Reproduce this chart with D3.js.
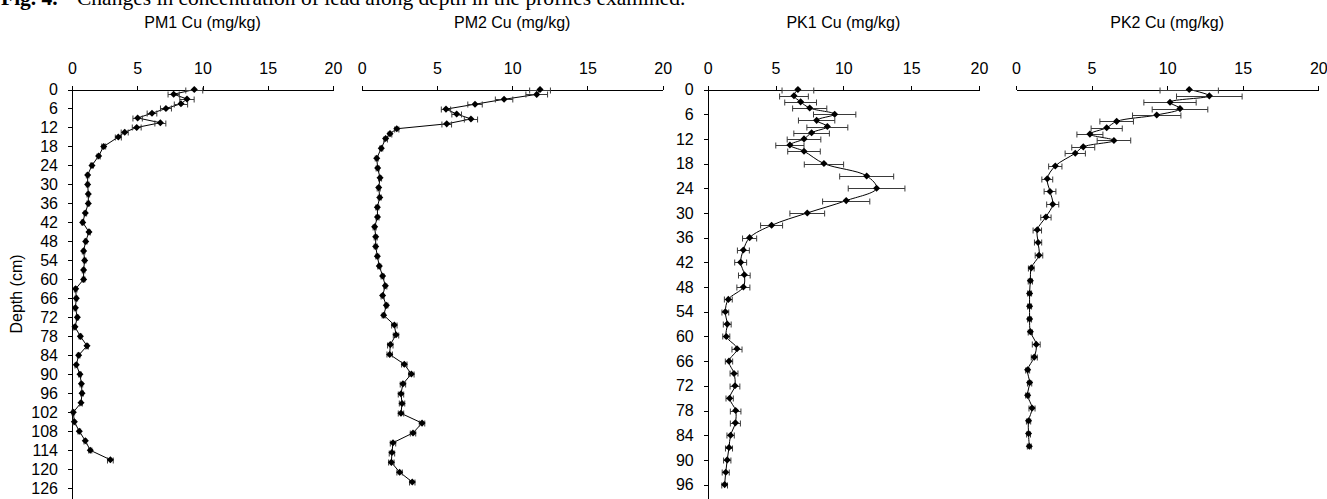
<!DOCTYPE html>
<html>
<head>
<meta charset="utf-8">
<script src="https://cdn.jsdelivr.net/npm/d3@7/dist/d3.min.js"></script>
<style>
  body { margin: 0; background: #fff; }
  svg { display: block; font-family: "Liberation Sans", Arial, sans-serif; }
  .axis path, .axis line { stroke: #000; shape-rendering: crispEdges; }
  .axis text { font-size: 16px; fill: #000; font-family: "Liberation Sans", Arial, sans-serif; }
</style>
</head>
<body>
<svg id="chart" width="1327" height="499"></svg>
<script>
// depth tick labels (cm)
var pmDepthTicks = [0,6,12,18,24,30,36,42,48,54,60,66,72,78,84,90,96,102,108,114,120,126];
var pkDepthTicks = [0,6,12,18,24,30,36,42,48,54,60,66,72,78,84,90,96];
var cuTicks = [0,5,10,15,20];

// PM1
var pm1Depth = [0,1.5,3,4.5,6,7.5,9,10.5,12,13.5,15,18,21,24,27,30,33,36,39,42,45,48,51,54,57,60,
    63,66,69,72,75,78,81,84,87,90,93,96,99,102,105,108,111,114,117];
var pm1Cu = [9.37,7.79,8.81,8.35,7.20,6.13,5.03,6.77,4.96,4.04,3.55,2.43,2.04,1.53,1.20,1.20,1.25,1.25,1.02,0.82,
    1.30,1.05,0.89,0.97,0.89,0.89,0.28,0.33,0.26,0.41,0.23,0.64,1.15,0.51,0.33,0.61,0.72,0.77,0.69,0.10,
    0.18,0.56,1.02,1.40,2.94];
var pm1Err = [0.65,0.43,0.55,0.51,0.42,0.37,0.36,0.42,0.34,0.27,0.23,0.15,0.12,0.12,0.1,0.1,0.1,0.1,0.1,0.1,
    0.1,0.1,0.1,0.1,0.1,0.1,0.1,0.1,0.1,0.1,0.1,0.1,0.1,0.1,0.1,0.1,0.1,0.1,0.1,0.1,
    0.1,0.1,0.1,0.12,0.22];

// PM2
var pm2Depth = [0,1.5,3,4.5,6,7.5,9,10.5,12,13.5,15,18,21,24,27,30,33,36,39,42,45,48,51,54,57,60,
    63,66,69,72,75,78,81,84,87,90,93,96,99,102,105,108,111,114,117,120];
var pm2Cu = [11.85,11.63,9.46,7.53,5.60,6.31,7.26,5.65,2.33,1.88,1.59,1.30,1.00,1.06,1.22,1.13,1.20,1.04,1.05,
    0.86,0.93,0.93,1.04,1.17,1.39,1.57,1.39,1.64,1.46,2.17,2.28,1.90,1.86,2.83,3.30,2.74,2.61,2.68,2.61,
    4.01,3.41,2.08,2.01,1.97,2.52,3.36];
var pm2Err = [0.69,0.72,0.58,0.48,0.31,0.32,0.44,0.32,0.14,0.12,0.12,0.1,0.1,0.1,0.1,0.1,0.1,0.1,0.1,
    0.1,0.1,0.1,0.1,0.1,0.1,0.1,0.1,0.1,0.1,0.18,0.18,0.18,0.18,0.18,0.18,0.18,0.18,0.18,0.18,
    0.18,0.18,0.18,0.18,0.18,0.18,0.18];

// PK1
var pk1Depth = [0,1.5,3,4.5,6,7.5,9,10.5,12,13.5,15,18,21,24,27,30,33,36,39,42,45,48,51,54,57,60,
    63,66,69,72,75,78,81,84,87,90,93,96];
var pk1Cu = [6.65,6.36,6.85,7.52,9.36,8.03,8.82,7.66,7.10,6.06,7.10,8.57,11.72,12.45,10.21,7.34,4.71,3.09,2.63,
    2.43,2.70,2.63,1.52,1.30,1.44,1.37,2.16,1.57,1.94,2.01,1.62,2.06,2.04,1.69,1.57,1.44,1.33,1.25];
var pk1Err = [1.17,1.06,1.17,1.26,1.56,1.34,1.51,1.31,1.24,1.04,1.20,1.45,1.99,2.09,1.74,1.28,0.81,0.52,0.44,
    0.44,0.43,0.48,0.29,0.25,0.29,0.26,0.37,0.27,0.29,0.36,0.27,0.39,0.37,0.27,0.26,0.27,0.26,0.21];

// PK2
var pk2Depth = [0,1.5,3,4.5,6,7.5,9,10.5,12,13.5,15,18,21,24,27,30,33,36,39,42,45,48,51,54,57,60,
    63,66,69,72,75,78,81,84];
var pk2Cu = [11.46,12.79,10.19,10.85,9.31,6.66,6.00,4.89,6.48,4.45,3.92,2.60,2.07,2.25,2.43,1.98,1.41,1.46,1.52,
    1.01,0.95,0.90,0.90,0.90,0.95,1.34,1.21,0.77,0.90,0.77,1.06,0.83,0.83,0.88];
var pk2Err = [1.93,2.17,1.73,1.84,1.60,1.11,1.03,0.86,1.11,0.76,0.67,0.44,0.36,0.39,0.40,0.34,0.28,0.24,0.25,
    0.19,0.14,0.13,0.13,0.13,0.14,0.26,0.20,0.13,0.14,0.13,0.20,0.14,0.13,0.13];

var panels = [
    {title: "PM1 Cu (mg/kg)", depth: pm1Depth, cu: pm1Cu, err: pm1Err, x0: 72, x1: 333, depthMax: 129.4,
     yTicks: pmDepthTicks, showY: true, smooth: false},
    {title: "PM2 Cu (mg/kg)", depth: pm2Depth, cu: pm2Cu, err: pm2Err, x0: 361.7, x1: 662.7, depthMax: 125.2,
     yTicks: null, showY: false, smooth: false},
    {title: "PK1 Cu (mg/kg)", depth: pk1Depth, cu: pk1Cu, err: pk1Err, x0: 707.7, x1: 979, depthMax: 99.5,
     yTicks: pkDepthTicks, showY: true, smooth: true},
    {title: "PK2 Cu (mg/kg)", depth: pk2Depth, cu: pk2Cu, err: pk2Err, x0: 1016, x1: 1318.3, depthMax: 96.4,
     yTicks: null, showY: false, smooth: true}
];

var svg = d3.select("#chart");
var plotTop = 89.5, plotBottom = 499;

// caption, cut off at the top of the picture
var cap = svg.append("text")
    .attr("y", 5)
    .style("font-family", "\"Liberation Serif\", \"Times New Roman\", serif")
    .style("font-size", "21.5px");
cap.append("tspan").attr("x", 1).style("font-weight", "bold").text("Fig. 4.");
cap.append("tspan").attr("x", 77).text("Changes in concentration of lead along depth in the profiles examined.");

panels.forEach(function(p) {
    var x = d3.scaleLinear().domain([0, 20]).range([p.x0, p.x1]);
    var y = d3.scaleLinear().domain([0, p.depthMax]).range([plotTop, plotBottom]);
    var g = svg.append("g");

    g.append("text")
        .attr("x", (p.x0 + p.x1) / 2)
        .attr("y", 28)
        .attr("text-anchor", "middle")
        .style("font-size", "16px")
        .text(p.title);

    g.append("g")
        .attr("class", "axis")
        .attr("transform", "translate(0," + plotTop + ")")
        .call(d3.axisTop(x).tickValues(cuTicks).tickSize(4).tickSizeOuter(0).tickPadding(12))
        .call(function(a) { a.selectAll("text").attr("dy", "0em"); });

    if (p.showY) {
        g.append("g")
            .attr("class", "axis")
            .attr("transform", "translate(" + p.x0 + ",0)")
            .call(d3.axisLeft(y).tickValues(p.yTicks).tickSize(4).tickSizeOuter(0).tickPadding(10));
    }

    var pts = p.depth.map(function(d, i) { return {d: d, v: p.cu[i], e: p.err[i]}; });

    var line = d3.line()
        .x(function(d) { return x(d.v); })
        .y(function(d) { return y(d.d); })
        .curve(p.smooth ? d3.curveCatmullRom.alpha(0.5) : d3.curveLinear);

    g.append("path")
        .datum(pts)
        .attr("fill", "none")
        .attr("stroke", "#000")
        .attr("stroke-width", 1)
        .attr("d", line);

    var eb = g.append("g").attr("stroke", "#3a3a3a").attr("stroke-width", 1);
    pts.forEach(function(d) {
        var yy = Math.round(y(d.d)) + 0.5;
        var xa = x(d.v - d.e), xb = x(d.v + d.e);
        eb.append("line").attr("x1", xa).attr("x2", xb).attr("y1", yy).attr("y2", yy);
        eb.append("line").attr("x1", xa).attr("x2", xa).attr("y1", yy - 3).attr("y2", yy + 3);
        eb.append("line").attr("x1", xb).attr("x2", xb).attr("y1", yy - 3).attr("y2", yy + 3);
    });

    g.append("g").selectAll("path")
        .data(pts)
        .enter().append("path")
        .attr("transform", function(d) { return "translate(" + x(d.v) + "," + y(d.d) + ")"; })
        .attr("d", d3.symbol().type(d3.symbolDiamond2).size(32))
        .attr("fill", "#000");
});

svg.append("text")
    .attr("transform", "translate(22,294) rotate(-90)")
    .attr("text-anchor", "middle")
    .style("font-size", "16px")
    .text("Depth (cm)");
</script>
</body>
</html>
